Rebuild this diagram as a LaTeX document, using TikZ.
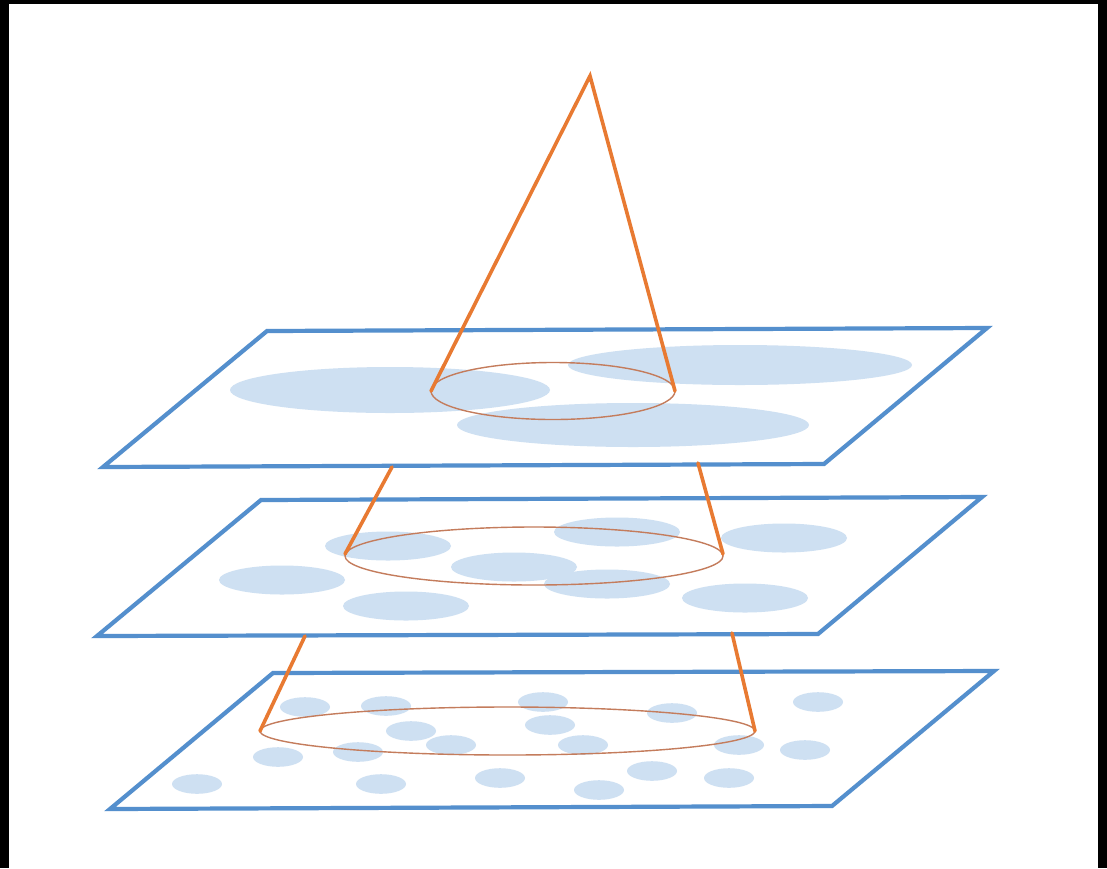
\documentclass[tikz,border=0pt]{standalone}
\usetikzlibrary{calc}
\definecolor{planeblue}{RGB}{84,143,205}
\definecolor{blobblue}{RGB}{206,224,242}
\definecolor{coneorange}{RGB}{232,122,50}
\definecolor{ringorange}{RGB}{196,124,92}
\tikzset{
  plane/.style={draw=planeblue, line width=4.2pt, line join=miter},
  blob/.style={fill=blobblue, draw=none},
  ring/.style={draw=ringorange, line width=1.4pt},
  coneline/.style={draw=coneorange, line width=3.6pt, line cap=round}
}
\begin{document}
\begin{tikzpicture}[x=1pt,y=-1pt]
\useasboundingbox (0,0) rectangle (1107,868);
\fill[black] (0,0) rectangle (1107,868);
\fill[white] (9,4) rectangle (1098,868);

% ---- top plane ----
\fill[blobblue] (390,390) ellipse [x radius=160, y radius=23];
\fill[blobblue] (740,365) ellipse [x radius=172, y radius=20];
\fill[blobblue] (633,425) ellipse [x radius=176, y radius=22];
\draw[plane] (267,331) -- (987,328) -- (824,464) -- (103,467) -- cycle;

% ---- middle plane ----
\foreach \cx/\cy in {388/546, 282/580, 514/567, 406/606, 617/532, 607/584, 784/538, 745/598}
  \fill[blob] (\cx,\cy) ellipse [x radius=63, y radius=14.5];
\draw[plane] (261,500) -- (982,497) -- (818,634) -- (97,636) -- cycle;

% ---- bottom plane ----
\foreach \cx/\cy in {305/707, 386/706, 543/702, 411/731, 550/725, 451/745, 583/745,
  278/757, 358/752, 197/784, 381/784, 500/778, 599/790, 672/713, 739/745, 818/702,
  805/750, 652/771, 729/778}
  \fill[blob] (\cx,\cy) ellipse [x radius=25, y radius=9.8];
\draw[plane] (273,673) -- (994,671) -- (832,806) -- (110,809) -- cycle;

% ---- cone ----
\coordinate (apex) at (590,76);
\coordinate (t1) at (431,391);
\coordinate (t2) at (675,391);
\draw[ring] (553,391) ellipse [x radius=122, y radius=28.5];
\draw[coneline] (t1) -- (apex) -- (t2);

\coordinate (m0l) at (392,467);
\coordinate (m0r) at (698,463);
\coordinate (m1) at (345,554);
\coordinate (m2) at (723,554);
\draw[ring] (534,556) ellipse [x radius=189, y radius=29];
\draw[coneline] (m0l) -- (m1);
\draw[coneline] (m0r) -- (m2);

\coordinate (b0l) at (305,636);
\coordinate (b0r) at (732,633);
\coordinate (b1) at (260,731);
\coordinate (b2) at (755,731);
\draw[ring] (507.5,731) ellipse [x radius=247.5, y radius=24];
\draw[coneline] (b0l) -- (b1);
\draw[coneline] (b0r) -- (b2);
\end{tikzpicture}
\end{document}
